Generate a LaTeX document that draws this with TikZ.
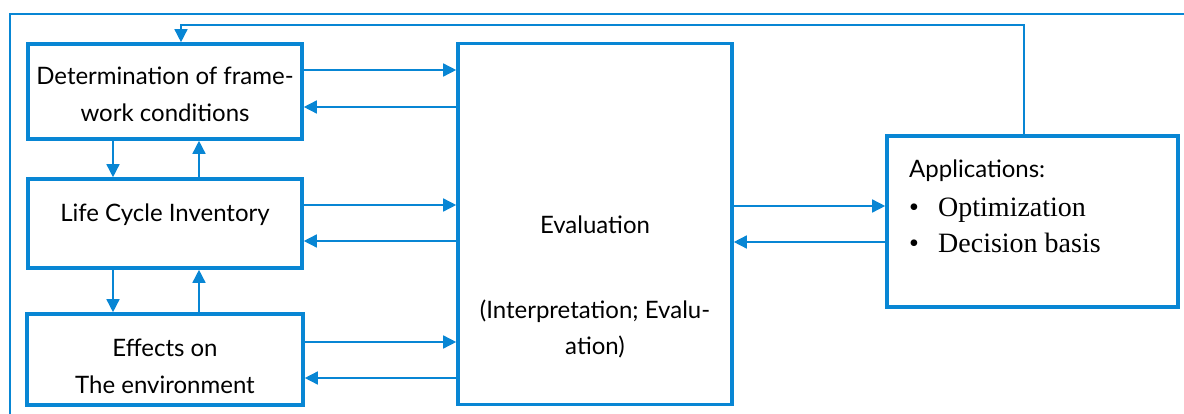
\documentclass[tikz,border=0pt]{standalone}
\usepackage{fontspec}
\setmainfont{Lato}
\newfontfamily\bulletfont{Liberation Serif}
\usetikzlibrary{arrows.meta}
\definecolor{lcablue}{RGB}{8,134,212}
\tikzset{
  box/.style={draw=lcablue, line width=3.6pt, rectangle, inner sep=0pt},
  link/.style={draw=lcablue, line width=1.5pt, -{Triangle[length=13pt,width=13pt]}},
  frame/.style={draw=lcablue, line width=1.5pt},
  txt/.style={anchor=base, inner sep=0pt, font=\fontsize{24}{28}\selectfont},
  apptxt/.style={anchor=base west, inner sep=0pt},
}
\begin{document}
\begin{tikzpicture}[x=1pt, y=-1pt]
\useasboundingbox (0,0) rectangle (1184,414);

% boxes
\node[box, minimum width=274pt, minimum height=95pt]  (det)  at (165,91.5) {};
\node[box, minimum width=274pt, minimum height=89pt]  (lci)  at (165,223.5) {};
\node[box, minimum width=276pt, minimum height=91pt]  (eff)  at (165,359.5) {};
\node[box, minimum width=274pt, minimum height=361pt] (eval) at (595,224) {};
\node[box, minimum width=291pt, minimum height=171pt] (app)  at (1032.5,221.5) {};

% box texts
\node[txt] (det1) at (165,85)  {Determination of frame-};
\node[txt] (det2) at (165,122) {work conditions};
\node[txt] (lcit) at (165,222) {Life Cycle Inventory};
\node[txt] (eff1) at (165,356) {Effects on};
\node[txt] (eff2) at (165,393) {The environment};
\node[txt] (ev1)  at (595,234) {Evaluation};
\node[txt] (ev2)  at (595,318) {(Interpretation; Evalu-};
\node[txt] (ev3)  at (595,354) {ation)};
\node[apptxt, font=\fontsize{24}{28}\selectfont] (apph) at (909,178) {Applications:};
\node[apptxt, font=\bulletfont\fontsize{28}{32}\selectfont] (ap1) at (909,217) {\makebox[29pt][l]{\textbullet}Optimization};
\node[apptxt, font=\bulletfont\fontsize{28}{32}\selectfont] (ap2) at (909,253) {\makebox[29pt][l]{\textbullet}Decision basis};

% outer frame
\coordinate (fBL) at (10,414);
\coordinate (fTL) at (10,14);
\coordinate (fTR) at (1184,14);
\draw[frame] (fBL) -- (fTL) -- (fTR);

% feedback from applications to the framework conditions
\coordinate (fbR) at (1024,25);
\coordinate (fbL) at (181,25);
\draw[link] (fbR |- app.north) -- (fbR) -- (fbL) -- (fbL |- det.north);

% exchanges with the evaluation
\draw[link] (det.east |- 0,70)  -- (eval.west |- 0,70);
\draw[link] (eval.west |- 0,107) -- (det.east |- 0,107);
\draw[link] (lci.east |- 0,205) -- (eval.west |- 0,205);
\draw[link] (eval.west |- 0,241) -- (lci.east |- 0,241);
\draw[link] (eff.east |- 0,342) -- (eval.west |- 0,342);
\draw[link] (eval.west |- 0,378) -- (eff.east |- 0,378);
\draw[link] (eval.east |- 0,206) -- (app.west |- 0,206);
\draw[link] (app.west |- 0,242) -- (eval.east |- 0,242);

% vertical links between the stages
\draw[link] (113,0 |- det.south) -- (113,0 |- lci.north);
\draw[link] (199,0 |- lci.north) -- (199,0 |- det.south);
\draw[link] (113,0 |- lci.south) -- (113,0 |- eff.north);
\draw[link] (199,0 |- eff.north) -- (199,0 |- lci.south);
\end{tikzpicture}
\end{document}
